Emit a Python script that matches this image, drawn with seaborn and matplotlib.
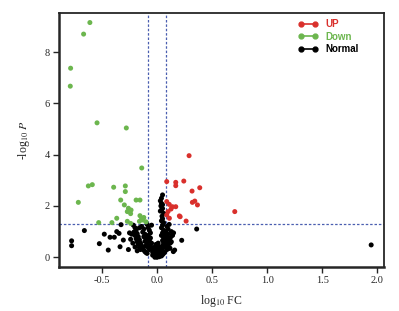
import matplotlib
matplotlib.use("Agg")
import matplotlib.pyplot as plt
from matplotlib.lines import Line2D
import seaborn as sns
import pandas as pd

# ---- data ----
up_x = [0.291, 0.088, 0.17, 0.17, 0.243, 0.388, 0.318, 0.343, 0.321, 0.367, 0.706,
        0.088, 0.111, 0.127, 0.17, 0.14, 0.10, 0.203, 0.088, 0.112, 0.264, 0.21]
up_y = [3.96, 2.95, 2.92, 2.79, 2.97, 2.71, 2.58, 2.19, 2.14, 2.04, 1.78,
        2.17, 2.06, 1.88, 1.97, 1.97, 1.78, 1.61, 1.65, 1.52, 1.41, 1.58]

down_x = [-0.61, -0.667, -0.785, -0.788, -0.545, -0.279, -0.139, -0.624, -0.588, -0.715,
          -0.394, -0.288, -0.288, -0.33, -0.19, -0.155, -0.297, -0.26, -0.236, -0.27,
          -0.24, -0.366, -0.53, -0.27, -0.155, -0.14, -0.127, -0.16, -0.41, -0.24, -0.1, -0.12]
down_y = [9.15, 8.70, 7.37, 6.67, 5.24, 5.04, 3.48, 2.78, 2.83, 2.14,
          2.73, 2.78, 2.56, 2.23, 2.23, 2.23, 2.04, 1.91, 1.84, 1.78,
          1.70, 1.52, 1.35, 1.40, 1.62, 1.52, 1.45, 1.40, 1.35, 1.32, 1.38, 1.55]

normal_x = [
    # scattered
    -0.776, -0.776, -0.66, -0.524, -0.479, -0.443, -0.427, -0.388, -0.345, -0.327,
    -0.306, -0.336, -0.26, -0.366, 0.36, 0.224, 0.148, 0.118, 0.14, 0.15, 0.16, 1.945,
    # left lobe
    -0.215, -0.2, -0.19, -0.21, -0.18, -0.2, -0.17, -0.19, -0.16, -0.18, -0.15, -0.17,
    -0.14, -0.16, -0.13, -0.12, -0.15, -0.11, -0.1, -0.09, -0.14, -0.12, -0.13, -0.11,
    -0.12, -0.1, -0.11, -0.09, -0.1, -0.08, -0.07, -0.08, -0.07, -0.06, -0.08, -0.06,
    -0.07, -0.05, -0.06, -0.05, -0.04, -0.05, -0.09, -0.16, -0.23, -0.24, -0.22, -0.2,
    -0.18, -0.25,
    # bottom centre
    -0.04, -0.03, -0.02, -0.01, 0.0, 0.01, 0.02, 0.03, 0.04, 0.05, -0.03, -0.02,
    -0.01, 0.0, 0.01, 0.02, 0.03, -0.02, 0.0, 0.02, -0.01, 0.01, 0.0, -0.02, 0.02,
    0.04, -0.04, 0.05,
    # right branch
    0.04, 0.05, 0.06, 0.05, 0.06, 0.04, 0.05, 0.06, 0.04, 0.05, 0.07, 0.08, 0.09,
    0.08, 0.09, 0.07, 0.08, 0.10, 0.09, 0.11, 0.10, 0.12, 0.11, 0.12, 0.10, 0.13,
    0.14, 0.11, 0.09, 0.07, 0.06, 0.13,
    # column
    0.05, 0.04, 0.03, 0.04, 0.035, 0.05, 0.04, 0.06, 0.045, 0.05, 0.04, 0.06, 0.03, 0.05,
]
normal_y = [
    0.64, 0.45, 1.04, 0.53, 0.90, 0.28, 0.78, 0.78, 0.93, 1.27,
    0.67, 0.41, 0.30, 1.00, 1.10, 0.66, 0.22, 0.35, 0.87, 0.95, 0.28, 0.48,
    1.25, 1.15, 1.05, 0.98, 0.92, 0.85, 0.80, 0.72, 0.68, 0.60, 0.55, 0.50,
    0.45, 0.38, 0.35, 0.28, 0.30, 0.22, 0.18, 0.15, 1.20, 1.10, 0.98, 0.90,
    0.80, 0.72, 0.62, 0.55, 0.45, 0.38, 0.30, 1.15, 1.05, 0.95, 0.85, 0.75,
    0.65, 0.55, 0.45, 0.35, 0.28, 1.25, 1.28, 1.15, 0.90, 0.70, 0.55, 0.40,
    0.25, 0.95,
    0.20, 0.15, 0.10, 0.05, 0.02, 0.06, 0.10, 0.15, 0.20, 0.25, 0.30, 0.22,
    0.15, 0.10, 0.18, 0.25, 0.30, 0.40, 0.35, 0.40, 0.50, 0.55, 0.00, 0.00, 0.02,
    0.05, 0.08, 0.10,
    0.35, 0.45, 0.55, 0.65, 0.75, 0.85, 0.95, 1.05, 1.15, 1.25, 0.40, 0.50, 0.60,
    0.70, 0.80, 0.90, 1.00, 1.10, 1.20, 1.28, 0.90, 0.75, 0.65, 0.55, 0.45, 1.00,
    0.85, 0.35, 0.30, 0.20, 0.15, 0.60,
    2.43, 2.30, 2.20, 2.10, 2.00, 1.90, 1.84, 1.71, 1.60, 1.50, 1.42, 1.35, 1.80, 2.05,
]

groups = ["UP", "Down", "Normal"]
colors = {"UP": "#d9302c", "Down": "#6cb64e", "Normal": "#000000"}
fc_cut = 0.079
p_cut = 1.301
x_ticks = [-0.5, 0.0, 0.5, 1.0, 1.5, 2.0]
y_ticks = [0, 2, 4, 6, 8]

df = pd.concat([
    pd.DataFrame({"x": normal_x, "y": normal_y, "g": "Normal"}),
    pd.DataFrame({"x": down_x, "y": down_y, "g": "Down"}),
    pd.DataFrame({"x": up_x, "y": up_y, "g": "UP"}),
], ignore_index=True)

sns.set_style("ticks")
plt.rcParams["font.family"] = ["Liberation Serif", "DejaVu Serif"]
plt.rcParams["mathtext.fontset"] = "stix"

fig = plt.figure(figsize=(3.99, 3.11), dpi=100)
ax = fig.add_axes([0.148, 0.1415, 0.814, 0.8165])

sns.scatterplot(data=df, x="x", y="y", hue="g", palette=colors, s=13,
                edgecolor="none", legend=False, ax=ax, zorder=3)

lc = "#4a5fb0"
ax.axvline(-fc_cut, color=lc, ls=(0, (2, 1.5)), lw=0.9, zorder=2)
ax.axvline(fc_cut, color=lc, ls=(0, (2, 1.5)), lw=0.9, zorder=2)
ax.axhline(p_cut, color=lc, ls=(0, (2, 1.5)), lw=0.9, zorder=2)

ax.set_xlim(-0.89, 2.06)
ax.set_ylim(-0.38, 9.52)
ax.set_xticks(x_ticks)
ax.set_xticklabels([f"{t:.1f}" for t in x_ticks])
ax.set_yticks(y_ticks)
ax.tick_params(axis="both", labelsize=7.5, length=4, width=1, direction="out", pad=2.5)
ax.set_xlabel(r"log$_{10}$ FC", fontsize=8.5, labelpad=6)
ax.set_ylabel(r"-log$_{10}$ $P$", fontsize=8.5, labelpad=9)
for side in ["left", "bottom"]:
    ax.spines[side].set_linewidth(1.8)
for side in ["top", "right"]:
    ax.spines[side].set_linewidth(1.3)

handles = [Line2D([0], [0], color=colors[g], marker="o", markersize=3.5, lw=1.2)
           for g in groups]
leg = ax.legend(handles, groups, loc="upper right", bbox_to_anchor=(0.95, 1.01),
                frameon=False, numpoints=2, handlelength=2.0, handletextpad=0.8,
                labelspacing=0.25, prop={"family": "Liberation Sans", "weight": "bold", "size": 7})
for t, g in zip(leg.get_texts(), groups):
    t.set_color(colors[g])

fig.savefig("out.png", dpi=100)
